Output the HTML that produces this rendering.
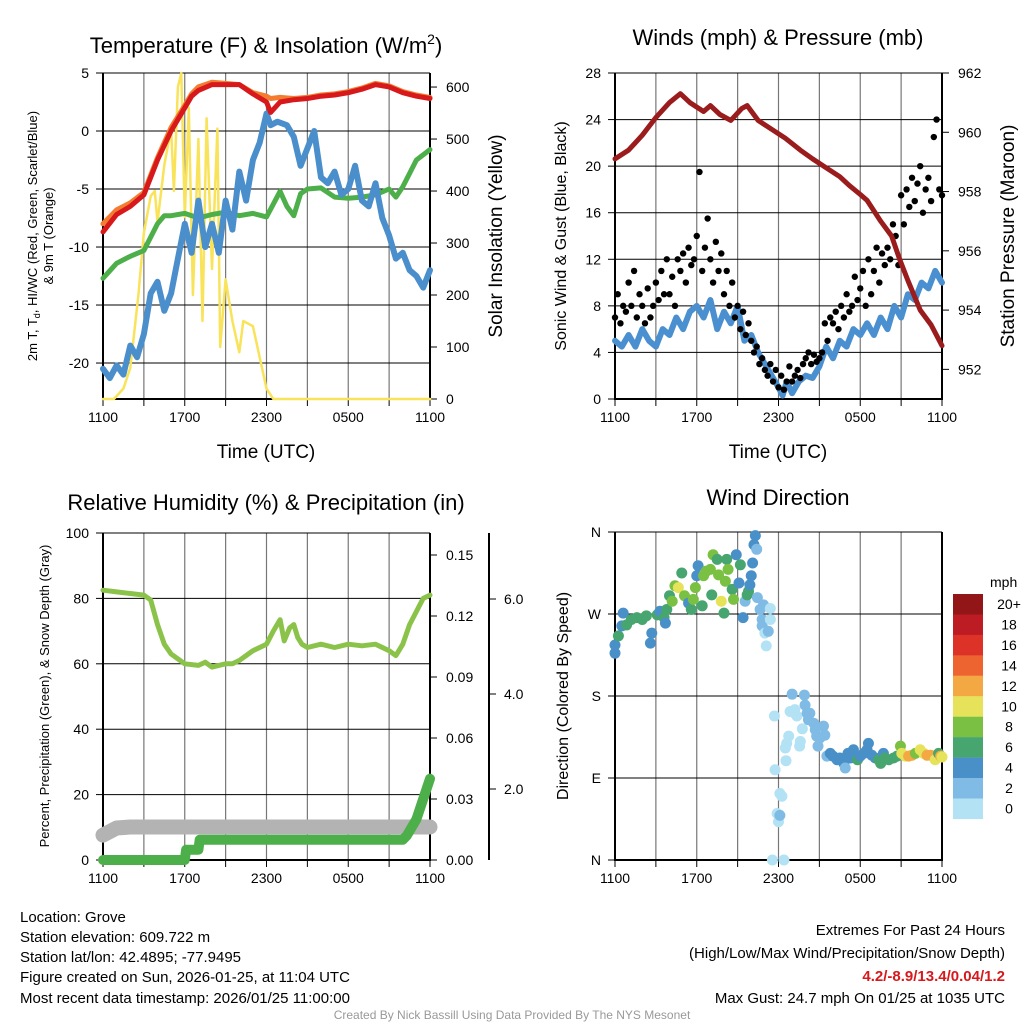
<!DOCTYPE html>
<html><head><meta charset="utf-8"><style>
html,body{margin:0;padding:0;background:#fff}
svg{display:block;font-family:"Liberation Sans",Arial,sans-serif}
</style></head><body>
<svg id="c" width="1024" height="1024" viewBox="0 0 1024 1024">
<rect width="1024" height="1024" fill="#fff"/>
<text x="266" y="53" font-size="22" text-anchor="middle">Temperature (F) &amp; Insolation (W/m<tspan dy="-9" font-size="14">2</tspan><tspan dy="9">)</tspan></text>
<text x="778" y="45" font-size="22" text-anchor="middle">Winds (mph) &amp; Pressure (mb)</text>
<text x="266" y="510" font-size="22" text-anchor="middle">Relative Humidity (%) &amp; Precipitation (in)</text>
<text x="778" y="505" font-size="22" text-anchor="middle">Wind Direction</text>
<text x="266" y="458" font-size="19" text-anchor="middle">Time (UTC)</text>
<text x="778" y="458" font-size="19" text-anchor="middle">Time (UTC)</text>
<text transform="translate(37,236) rotate(-90)" font-size="13" text-anchor="middle">2m T, T<tspan dy="3" font-size="9">d</tspan><tspan dy="-3">, HI/WC (Red, Green, Scarlet/Blue)</tspan></text>
<text transform="translate(53,236) rotate(-90)" font-size="13" text-anchor="middle">&amp; 9m T (Orange)</text>
<text transform="translate(502,236) rotate(-90)" font-size="19" text-anchor="middle">Solar Insolation (Yellow)</text>
<text transform="translate(566,236) rotate(-90)" font-size="16" text-anchor="middle">Sonic Wind &amp; Gust (Blue, Black)</text>
<text transform="translate(1014,236) rotate(-90)" font-size="19" text-anchor="middle">Station Pressure (Maroon)</text>
<text transform="translate(49,696) rotate(-90)" font-size="13" text-anchor="middle">Percent, Precipitation (Green), &amp; Snow Depth (Gray)</text>
<text transform="translate(568,696) rotate(-90)" font-size="16" text-anchor="middle">Direction (Colored By Speed)</text>
<g font-size="15">
<text x="20" y="922">Location: Grove</text>
<text x="20" y="942">Station elevation: 609.722 m</text>
<text x="20" y="962">Station lat/lon: 42.4895; -77.9495</text>
<text x="20" y="982">Figure created on Sun, 2026-01-25, at 11:04 UTC</text>
<text x="20" y="1003">Most recent data timestamp: 2026/01/25 11:00:00</text>
</g>
<g font-size="15" text-anchor="end">
<text x="1005" y="935">Extremes For Past 24 Hours</text>
<text x="1005" y="958">(High/Low/Max Wind/Precipitation/Snow Depth)</text>
<text x="1005" y="981" fill="#d7191c" font-weight="bold">4.2/-8.9/13.4/0.04/1.2</text>
<text x="1005" y="1003">Max Gust: 24.7 mph On 01/25 at 1035 UTC</text>
</g>
<text x="512" y="1019" font-size="12" fill="#999" text-anchor="middle">Created By Nick Bassill Using Data Provided By The NYS Mesonet</text>
</svg>
<script>
// ---- Temperature panel data (hours since 1100 UTC) ----
const tHours = [0,1,2,3,4,5,6,6.5,7,8,9,10,11,12,12.3,13,14,15,16,17,18,19,20,21,22,23,24];
const tRed = [-8.7,-7.2,-6.5,-5.5,-2.5,0,2,3,3.5,4,4,4,3.2,2.5,1.6,2.5,2.7,2.8,3.0,3.1,3.3,3.6,4.0,3.8,3.3,3.0,2.8];
const tOrange = [-8.0,-6.8,-6.2,-5.3,-2.3,0.3,2.2,3.2,3.8,4.2,4.1,4.0,3.3,3.0,2.8,2.9,2.8,2.9,3.1,3.2,3.4,3.7,4.1,3.9,3.4,3.1,2.9];
const dHours = [0,1,2,3,4,4.5,5,6,7,8,9,10,11,12,13,13.5,14,14.5,15,16,17,18,19,20,21,21.5,22,23,24];
const dGreen = [-12.7,-11.4,-10.8,-10.3,-8,-7.3,-7.3,-7.1,-7.5,-7.2,-7.0,-7.3,-7.1,-7.4,-5.2,-6.5,-7.3,-5.4,-5,-4.9,-5.7,-5.8,-5.7,-5.5,-5,-5.7,-4.8,-2.5,-1.6];
const wcHours = [0,0.5,1,1.5,2,2.5,3,3.5,4,4.5,5,5.5,6,6.5,7,7.5,8,8.5,9,9.5,10,10.5,11,11.5,12,12.3,12.8,13.5,14,14.5,15,15.5,16,16.5,17,17.5,18,18.5,19,19.5,20,20.5,21,21.5,22,22.5,23,23.5,24];
const wcBlue = [-20.5,-21.3,-20.2,-21,-18.5,-19.5,-17.5,-14,-13,-15.5,-14,-11,-8,-10.5,-6,-10,-8,-10.5,-6,-8.5,-3.5,-6,-2.5,-1,1.5,0.5,0.8,0.5,-0.5,-3,-1.5,0,-4,-4.5,-3.5,-5.5,-5,-3,-6,-6.5,-4.5,-7.5,-9,-11,-10.5,-12,-12.5,-13.5,-12];
const sHours = [0,0.8,1.5,2,2.6,3,3.5,3.8,4,4.5,5,5.2,5.5,5.75,6,6.3,6.6,7,7.3,7.6,8,8.4,8.6,9,9.5,10,10.3,11,11.5,12,12.5,24];
const sSolar = [0,0,20,60,200,320,390,400,340,450,520,400,600,627,350,560,200,500,150,540,250,520,100,230,150,90,150,140,80,20,0,0];
const tTicks = [5,0,-5,-10,-15,-20];
const sTicks = [600,500,400,300,200,100,0];
const timeLabels = ['1100','1700','2300','0500','1100'];
// ---- Wind panel data ----
const pHours = [0,1,2,3,4,4.8,5.5,6.5,7,7.7,8.5,9.3,9.7,10.5,11.5,12.5,13.6,14.5,15.5,16.5,17.2,18,18.5,19.5,20.3,20.9,21.5,22.4,23.2,24];
const pPress = [959.1,959.4,959.9,960.5,961.0,961.3,961.0,960.7,960.9,960.6,960.4,960.8,960.9,960.4,960.1,959.8,959.4,959.1,958.8,958.5,958.2,957.9,957.7,957.0,956.5,955.7,955.0,954.0,953.5,952.8];
const wHours = [0,0.5,1,1.5,2,2.5,3,3.5,4,4.5,5,5.5,6,6.5,7,7.5,8,8.5,9,9.5,10,10.5,11,11.5,12,12.3,12.6,13,13.5,14,14.5,15,15.5,16,16.5,17,17.5,18,18.5,19,19.5,20,20.5,21,21.5,22,22.5,23,23.5,24];
const wSpeed = [5,4.5,5.5,4.5,6,5,4.5,6,5.5,7,6,7.5,8,7,8.5,6,7.5,6.5,8,5,5.5,4,3,2,1,0.3,1.5,0.5,1.5,2,1.8,2.8,4.5,3.5,5,4.5,6,5.5,6.5,5.5,7,6,8,7,9,8.5,10,9.5,11,10];
const gustStep = 0.2;
const gusts = [7,9,6.5,8,7.5, 10,8,11,7,9, 8,6.5,9.5,7,8, 10,8.5,11,9,12, 9,10.5,8,12,11, 12.5,10,13,11.5,12, 14,19.5,11,13,15.5, 12,10,13.5,11,12.5, 9,11,8,10,7, 8,6,7.5,5.5,6.5, 5,4,4.5,3,3.5, 2.5,2,3,1.5,2.5, 1,2,0.8,1.5,2.8, 1.5,2,2.5,1.8,3, 3.5,4,3,3.8,3.2, 3.5,4,6.5,5,7, 6.5,7.5,6,8,7, 9,7.5,8,10.5,8.5, 9.5,11,8,12,9, 11,13,10,12.5,11.5, 13,12,15,14,11.5, 17.5,15,18,16.5,19, 17,18.5,20,16,18, 19,17,22.5,24,18, 17.5];
const windTicks = [0,4,8,12,16,20,24,28];
const pressTicks = [952,954,956,958,960,962];
// ---- Humidity panel data ----
const rhHours = [0,1,2,3,3.5,4,4.5,5,6,7,7.5,8,8.5,9,9.5,10,11,12,12.5,13,13.3,13.7,14,14.3,14.6,15,16,17,18,19,20,21,21.5,22,22.5,23,23.5,24];
const rhVals = [82.5,82,81.5,81,79.5,72,66,63,60,59.5,60.5,59,59.5,60,60,61,64,66,70,73.5,67,71,72,68,66,65,66,65,66,65.5,66,64,62.5,66,72,76,80,81];
const prHours = [0,6.0,6.1,7.0,7.1,22.0,22.3,23.0,23.5,24];
const prVals = [0,0,0.005,0.005,0.01,0.01,0.012,0.02,0.03,0.04];
const snHours = [0,1,2,24];
const snVals = [1.03,1.18,1.2,1.2];
const rhTicks = [0,20,40,60,80,100];
const prTicks = ['0.00','0.03','0.06','0.09','0.12','0.15'];
const snTicks = ['2.0','4.0','6.0'];
// ---- Wind direction data ----
const dirHours = [0,0,0.25,0.5,0.6,0.85,1.2,1.6,2.0,2.3,2.7,2.6,3.1,3.3,3.6,3.7,3.8,4.0,4.2,4.4,4.65,4.9,5.1,5.4,5.6,5.75,5.9,6.0,6.1,6.4,6.5,6.7,7.0,7.1,7.2,7.5,7.6,7.8,8.0,8.1,8.2,8.3,8.6,8.7,8.9,9.1,9.2,9.4,9.55,9.7,9.8,9.9,10.0,10.1,10.3,10.2,10.4,10.45,10.65,10.8,10.9,10.8,11.0,11.1,11.25,11.4,11.4,11.7,11.75,12.1,12.25,11.9,12.0,12.1,11.55,12.4,12.5,12.6,12.75,12.55,12.85,13.0,13.1,13.2,13.35,13.6,13.55,13.75,13.9,13.95,14.1,14.2,14.3,14.6,14.7,14.8,14.9,15.05,15.3,15.4,15.55,15.8,16.0,16.3,16.5,16.8,16.9,17.1,17.3,17.5,17.8,18.0,18.25,18.5,18.6,18.85,19.1,19.35,19.5,19.7,19.8,20.1,20.45,20.7,20.95,21.05,21.3,21.55,21.8,22.05,22.4,22.65,22.9,23.15,23.4,23.5,23.75,23.9,24];
const dirDeg = [227,236,246,257,271,258,264,266,264,268,249,238,269,273,266,260,275,290,284,301,299,315,290,282,275,286,299,312,323,279,312,317,319,291,335,330,313,284,271,306,330,319,297,286,335,304,324,266,284,291,295,302,312,326,356,346,341,288,275,264,280,257,249,235,251,264,276,158,99,73,70,51,42,49,0,0,123,128,136,109,163,182,162,165,158,130,125,144,181,170,161,154,161,150,143,136,125,134,147,137,114,117,114,110,112,106,101,117,112,121,110,114,117,121,128,115,112,110,106,117,112,110,112,114,125,117,114,114,115,117,121,117,115,115,114,110,117,114,113];
const dirSpd = [5,5,7,5,5,7,7,7,7,7,5,5,7,5,7,5,7,7,9,9,11,7,9,5,7,9,9,5,5,7,9,9,9,7,9,7,9,11,7,9,7,9,7,9,5,5,7,5,3,7,7,5,5,5,5,5,3,3,3,3,3,3,1,1,3,1,1,1,1,1,1,1,1,3,1,1,1,1,1,1,1,3,1,1,1,1,1,1,3,3,3,3,3,3,3,3,3,3,3,3,3,5,5,5,5,5,3,5,5,5,7,5,5,5,5,5,5,7,7,5,7,7,7,7,9,11,11,13,13,9,11,11,13,13,13,11,7,13,11];
const dirLabels = ['N','W','S','E','N'];
const dirTickDeg = [360,270,180,90,0];
const cbLabels = ['20+','18','16','14','12','10','8','6','4','2','0'];
const cbColors = ['#921518','#bd1c25','#dd3228','#ee6430','#f4a844','#e6e35a','#7ac143','#47a56f','#4a90c8','#7fbbe4','#b3e2f5'];

const NS='http://www.w3.org/2000/svg';
const svg=document.getElementById('c');
function el(tag,parent){const e=document.createElementNS(NS,tag);parent.appendChild(e);return e;}
function sa(e,o){for(const k in o)e.setAttribute(k,o[k]);return e;}
function lin(d0,d1,r0,r1){return v=>r0+(v-d0)*(r1-r0)/(d1-d0);}
function pathD(xs,ys,fx,fy){return xs.map((h,i)=>(i?'L':'M')+fx(h).toFixed(1)+','+fy(ys[i]).toFixed(1)).join('');}
function txt(parent,x,y,s,size,anchor){const t=el('text',parent);sa(t,{x:x,y:y,'font-size':size,'text-anchor':anchor||'middle'});t.textContent=s;return t;}

function frame(name,L,R,T,B,yTickVals,fy,yLabels,gridH){
  const g=el('g',svg);
  
  
  const fx=lin(0,24,L,R);
  for(let h=3;h<24;h+=3){const l=el('line',g);sa(l,{x1:fx(h),x2:fx(h),y1:T,y2:B,stroke:'#777','stroke-width':1.2});}
  yTickVals.forEach((v,i)=>{const y=fy(v);
    if(gridH){const l=el('line',g);sa(l,{x1:L,x2:R,y1:y,y2:y,stroke:'#000','stroke-width':1});}
    const t=el('line',g);sa(t,{x1:L-7,x2:L,y1:y,y2:y,stroke:'#000'});
    const lab=txt(g,L-14,y+5,yLabels[i],14,'end');
    
    
  });
  for(let h=0;h<=24;h+=3){const t=el('line',g);sa(t,{x1:fx(h),x2:fx(h),y1:B,y2:B+7,stroke:'#000'});}
  timeLabels.forEach((s,i)=>{const lab=txt(g,fx(i*6),B+23,s,14);
    
    });
  const ax=el('path',g);sa(ax,{d:`M${L},${T}V${B}H${R}V${T}`,fill:'none',stroke:'#000','stroke-width':2});
  return {g,fx};
}

// ===== Panel 1 =====
const P1={L:103,R:430,T:73,B:399};
const fyT=lin(5,-23.1,P1.T,P1.B), fyS=lin(627,0,P1.T,P1.B);
const f1=frame('temperature-panel',P1.L,P1.R,P1.T,P1.B,tTicks,fyT,tTicks.map(String),true);
sTicks.forEach(v=>{const y=fyS(v);const t=el('line',f1.g);sa(t,{x1:P1.R,x2:P1.R+7,y1:y,y2:y,stroke:'#000'});
  const lab=txt(f1.g,P1.R+16,y+5,String(v),14,'start');
  
  });
function series(g,xs,ys,fx,fy,color,w,name,op){const p=el('path',g);sa(p,{d:pathD(xs,ys,fx,fy),fill:'none',stroke:color,'stroke-width':w,'stroke-linejoin':'round','stroke-linecap':'round',opacity:op||1});
  
  return p;}
series(f1.g,sHours,sSolar,f1.fx,fyS,'#f9e35a',2.5,'solar-insolation-line');
series(f1.g,dHours,dGreen,f1.fx,fyT,'#4daf4a',5,'dewpoint-line');
series(f1.g,wcHours,wcBlue,f1.fx,fyT,'#4a8fcc',6,'wind-chill-line');
series(f1.g,tHours,tOrange,f1.fx,fyT,'#f47c30',5,'temp-9m-line');
series(f1.g,tHours,tRed,f1.fx,fyT,'#d7191c',5,'temp-2m-line');

// ===== Panel 2 =====
const P2={L:615,R:942,T:73,B:399};
const fyW=lin(0,28,P2.B,P2.T), fyP=lin(951,962,P2.B,P2.T);
const f2=frame('winds-panel',P2.L,P2.R,P2.T,P2.B,windTicks,fyW,windTicks.map(String),true);
pressTicks.forEach(v=>{const y=fyP(v);const t=el('line',f2.g);sa(t,{x1:P2.R,x2:P2.R+7,y1:y,y2:y,stroke:'#000'});
  const lab=txt(f2.g,P2.R+16,y+5,String(v),14,'start');
  
  });
series(f2.g,wHours,wSpeed,f2.fx,fyW,'#4a90d0',6,'sonic-wind-line');
gusts.forEach((v,i)=>{const c=el('circle',f2.g);sa(c,{cx:f2.fx(i*gustStep),cy:fyW(v),r:3.2,fill:'#000'});
  
  });
series(f2.g,pHours,pPress,f2.fx,fyP,'#9b1c1c',5,'pressure-line');

// ===== Panel 3 =====
const P3={L:103,R:430,T:533,B:860};
const fyR=lin(0,100,P3.B,P3.T), fyPr=lin(0,0.15,P3.B,555), fySn=lin(2,6,789,599);
const f3=frame('humidity-panel',P3.L,P3.R,P3.T,P3.B,rhTicks,fyR,rhTicks.map(String),true);
prTicks.forEach(s=>{const y=fyPr(parseFloat(s));const t=el('line',f3.g);sa(t,{x1:P3.R,x2:P3.R+7,y1:y,y2:y,stroke:'#000'});
  const lab=txt(f3.g,P3.R+16,y+5,s,14,'start');
  
  });
const sAx=el('line',f3.g);sa(sAx,{x1:489,x2:489,y1:533,y2:860,stroke:'#000','stroke-width':2});


snTicks.forEach(s=>{const y=fySn(parseFloat(s));const t=el('line',f3.g);sa(t,{x1:489,x2:496,y1:y,y2:y,stroke:'#000'});
  const lab=txt(f3.g,504,y+5,s,14,'start');
  
  });
series(f3.g,snHours,snVals,f3.fx,fySn,'#b3b3b3',15,'snow-depth-line');
series(f3.g,prHours,prVals,f3.fx,fyPr,'#4daf4a',10,'precipitation-line');
series(f3.g,rhHours,rhVals,f3.fx,fyR,'#8bc34a',5,'humidity-line');

// ===== Panel 4 =====
const P4={L:615,R:942,T:532,B:860};
const fyD=lin(0,360,P4.B,P4.T);
const f4=frame('wind-direction-panel',P4.L,P4.R,P4.T,P4.B,dirTickDeg,fyD,dirLabels,true);
function spdColor(s){let i=Math.floor(s/2);if(i>10)i=10;return cbColors[10-i];}
dirHours.forEach((h,i)=>{const c=el('circle',f4.g);sa(c,{cx:f4.fx(h),cy:fyD(dirDeg[i]),r:5.5,fill:spdColor(dirSpd[i])});
  
  });
const cb=el('g',svg);


txt(cb,990,587,'mph',14,'start');
cbColors.forEach((col,i)=>{const r=el('rect',cb);sa(r,{x:953,y:594+i*20.45,width:30,height:20.6,fill:col});
  const lab=txt(cb,1009,594+i*20.45+15,cbLabels[i],14,'middle');
  
  });
</script>
</body></html>
